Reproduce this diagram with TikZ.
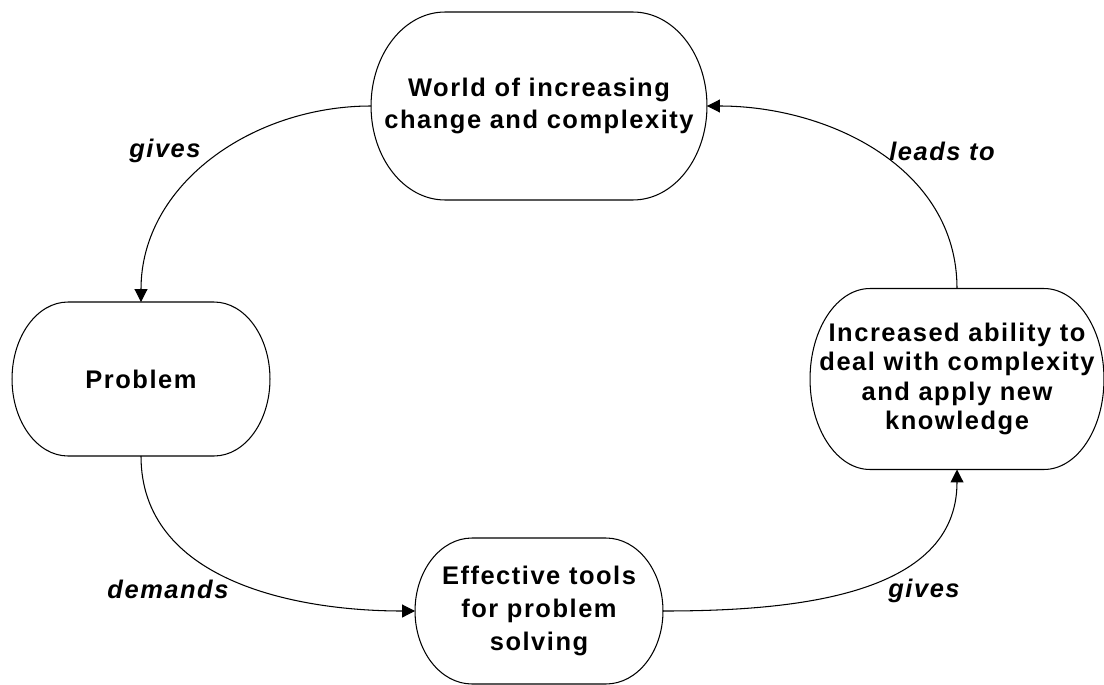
\documentclass[tikz,border=0pt]{standalone}
\usepackage{fontspec}
\usetikzlibrary{arrows.meta,calc}
\newfontfamily\boxfont[LetterSpace=6]{Liberation Sans}

% outline with half-elliptic ends around a node
\newcommand\pillframe[2]{%
  \draw let \p1=(#1.north east), \p2=(#1.south west) in
    (\x2+#2,\y1) -- (\x1-#2,\y1)
    arc[start angle=90, end angle=-90, x radius=#2, y radius={(\y1-\y2)/2}]
    -- (\x2+#2,\y2)
    arc[start angle=270, end angle=90, x radius=#2, y radius={(\y1-\y2)/2}] -- cycle;}

\begin{document}
\begin{tikzpicture}[x=0.02cm, y=0.02cm, line width=0.6pt,
    every node/.style={inner sep=0pt, outer sep=0pt, align=center},
    state/.style={font=\boxfont\bfseries\fontsize{14.5}{18.6}\selectfont},
    verb/.style={anchor=base, font=\boxfont\bfseries\itshape\fontsize{14.5}{18.6}\selectfont},
    link/.style={-{Triangle[length=0.26cm, width=0.26cm]}}]
  \useasboundingbox (0,0) rectangle (1104,684);

  \node[state, minimum width=6.72cm, minimum height=3.76cm] (world) at (539,578) {World of increasing\\change and complexity};
  \node[state, minimum width=5.16cm, minimum height=3.08cm] (problem) at (141,305) {Problem};
  \node[state, minimum width=4.96cm, minimum height=2.92cm] (tools) at (539,73) {Effective tools\\for problem\\solving};
  \node[state, minimum width=5.88cm, minimum height=3.62cm, font=\boxfont\bfseries\fontsize{14.5}{16.8}\selectfont] (ability) at (957,305) {Increased ability to\\deal with complexity\\and apply new\\knowledge};

  \pillframe{world}{1.48cm}
  \pillframe{problem}{1.12cm}
  \pillframe{tools}{1.14cm}
  \pillframe{ability}{1.2cm}

  \draw[link] (world.west) to[out=180, in=90] (problem.north);
  \draw[link] (problem.south) to[out=-90, in=180] (tools.west);
  \draw[link] (tools.east) to[out=0, in=-90] (ability.south);
  \draw[link] (ability.north) to[out=90, in=0] (world.east);

  \node[verb] (gives) at (165,527) {gives};
  \node[verb] (demands) at (168,86) {demands};
  \node[verb] (gives2) at (924,87) {gives};
  \node[verb] (leads) at (942,523) {leads to};
\end{tikzpicture}
\end{document}
